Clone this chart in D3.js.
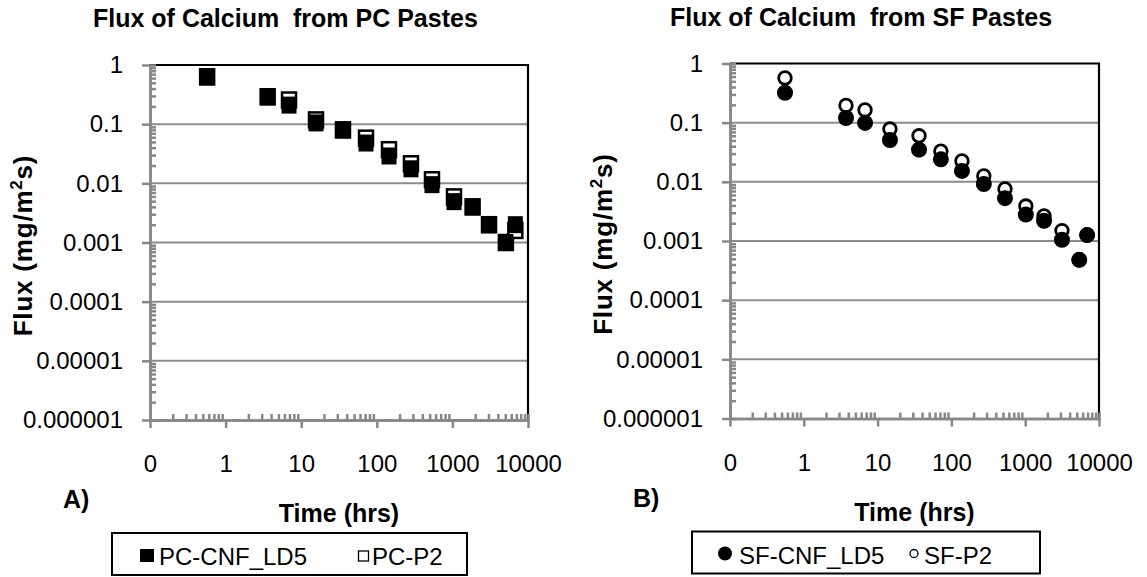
<!DOCTYPE html>
<html>
<head>
<meta charset="utf-8">
<script src="https://cdn.jsdelivr.net/npm/d3@7"></script>
<style>
  body { margin: 0; background: #fff; }
  svg text { font-family: "Liberation Sans", Arial, sans-serif; fill: #000; white-space: pre; }
</style>
</head>
<body>
<div id="plot"></div>
<script>
// time (hrs) and flux (mg/m2s)
const pcTime    = [0.57, 3.6, 6.9, 15.7, 35.7, 72, 145, 283, 537, 1050, 1850, 3050, 5100, 6800];
const pcCnfFlux = [0.63, 0.29, 0.21, 0.105, 0.08, 0.048, 0.029, 0.0176, 0.0095, 0.0049, 0.004, 0.002, 0.001, 0.002];
const pcP2Flux  = [0.63, 0.29, 0.256, 0.118, 0.08, 0.058, 0.037, 0.0214, 0.0115, 0.0059, 0.004, 0.002, 0.001, 0.0016];

const sfTime    = [0.556, 3.73, 6.76, 14.7, 36.4, 72, 139, 275, 532, 1020, 1800, 3150, 5400, 6900];
const sfCnfFlux = [0.32, 0.12, 0.099, 0.051, 0.035, 0.024, 0.0153, 0.0092, 0.0053, 0.0028, 0.0022, 0.00105, 0.00048, 0.00126];
const sfP2Flux  = [0.57, 0.195, 0.164, 0.078, 0.06, 0.033, 0.0225, 0.0126, 0.0076, 0.0039, 0.00265, 0.0015, 0.00048, 0.00126];

const xTicks = [0.1, 1, 10, 100, 1000, 10000];
const xTickLabels = ["0", "1", "10", "100", "1000", "10000"];
const yTicks = [1, 0.1, 0.01, 0.001, 0.0001, 0.00001, 0.000001];
const yTickLabels = ["1", "0.1", "0.01", "0.001", "0.0001", "0.00001", "0.000001"];

const width = 1147, height = 577;
const axisGrey = "#878787";

let svg = d3.select("#plot").append("svg")
  .attr("width", width)
  .attr("height", height);

function minorTicks(lo, hi){
  let out = [];
  for (let d = lo; d < hi; d *= 10) {
    for (let k = 2; k <= 9; k++) out.push(d * k);
  }
  return out;
}

function drawPanel(p){
  let x = d3.scaleLog().domain([0.1, 10000]).range([p.left, p.right]);
  let y = d3.scaleLog().domain([0.000001, 1]).range([p.bottom, p.top]);
  let g = svg.append("g");

  // gridlines
  g.append("g").selectAll("line")
    .data(yTicks.slice(1, -1))
    .join("line")
      .attr("x1", p.left).attr("x2", p.right)
      .attr("y1", d => y(d)).attr("y2", d => y(d))
      .attr("stroke", "#8c8c8c").attr("stroke-width", 2);

  // black frame on top and right
  g.append("path")
    .attr("d", `M${p.left},${y(1)}H${p.right}V${p.bottom}`)
    .attr("fill", "none").attr("stroke", "#000").attr("stroke-width", 2.2);

  // y axis: minor ticks inside, majors outside
  let yMinor = d3.axisLeft(y).tickValues(minorTicks(0.000001, 1))
    .tickSize(-6).tickFormat("");
  let yMajor = d3.axisLeft(y).tickValues(yTicks).tickSizeInner(8).tickSizeOuter(0)
    .tickPadding(19).tickFormat((d, i) => yTickLabels[i]);
  let xMinor = d3.axisBottom(x).tickValues(minorTicks(0.1, 10000))
    .tickSize(-6).tickFormat("");
  let xMajor = d3.axisBottom(x).tickValues(xTicks).tickSizeInner(8).tickSizeOuter(0)
    .tickPadding(27).tickFormat((d, i) => xTickLabels[i]);

  [[yMinor, "y"], [yMajor, "y"], [xMinor, "x"], [xMajor, "x"]].forEach(([ax, k]) => {
    let a = g.append("g")
      .attr("transform", k == "y" ? `translate(${p.left},0)` : `translate(0,${p.bottom})`)
      .call(ax);
    a.selectAll("path, line").attr("stroke", axisGrey).attr("stroke-width", 2.5);
    a.selectAll("text").style("font-size", "24px").attr("fill", "#000");
  });

  // points: open series first, filled drawn over it
  let pts = p.time.map((t, i) => ({t: t, open: p.openFlux[i], fill: p.fillFlux[i]}));
  if (p.shape == "square") {
    g.append("g").selectAll("rect").data(pts).join("rect")
      .attr("x", d => x(d.t) - 7).attr("y", d => y(d.open) - 7.5)
      .attr("width", 14).attr("height", 15)
      .attr("fill", "#fff").attr("stroke", "#000").attr("stroke-width", 2.5);
    g.append("g").selectAll("rect").data(pts).join("rect")
      .attr("x", d => x(d.t) - 7.5).attr("y", d => y(d.fill) - 8.5)
      .attr("width", 15).attr("height", 17)
      .attr("fill", "#000");
  } else {
    g.append("g").selectAll("circle").data(pts).join("circle")
      .attr("cx", d => x(d.t)).attr("cy", d => y(d.open)).attr("r", 6.3)
      .attr("fill", "#fff").attr("stroke", "#000").attr("stroke-width", 2.8);
    g.append("g").selectAll("circle").data(pts).join("circle")
      .attr("cx", d => x(d.t)).attr("cy", d => y(d.fill)).attr("r", 8)
      .attr("fill", "#000");
  }

  // titles and labels
  g.append("text").attr("x", p.titleX).attr("y", p.titleY)
    .style("font-size", "25px").style("font-weight", "bold").text(p.title);

  let yl = g.append("text")
    .attr("transform", `translate(${p.left - 118},${(p.top + p.bottom) / 2 + 3}) rotate(-90)`)
    .attr("text-anchor", "middle")
    .style("font-size", "26px").style("font-weight", "bold").style("letter-spacing", "0.8px");
  yl.append("tspan").text("Flux (mg/m");
  yl.append("tspan").attr("dy", -10).style("font-size", "17px").text("2");
  yl.append("tspan").attr("dy", 10).text("s)");

  g.append("text").attr("x", (p.left + p.right) / 2).attr("y", p.bottom + 102)
    .attr("text-anchor", "middle")
    .style("font-size", "25px").style("font-weight", "bold").text("Time (hrs)");

  g.append("text").attr("x", p.tagX).attr("y", p.bottom + 88)
    .style("font-size", "25px").style("font-weight", "bold").text(p.tag);

  // legend
  let lg = g.append("g");
  lg.append("rect").attr("x", p.legend[0]).attr("y", p.bottom + 113)
    .attr("width", p.legend[1] - p.legend[0]).attr("height", 42)
    .attr("fill", "#fff").attr("stroke", "#000").attr("stroke-width", 2);
  let ly = p.bottom + 136;
  if (p.shape == "square") {
    lg.append("rect").attr("x", p.legend[0] + 28).attr("y", ly - 7).attr("width", 14).attr("height", 13).attr("fill", "#000");
    lg.append("rect").attr("x", p.legend[2] + 0.5).attr("y", ly - 5).attr("width", 10).attr("height", 10)
      .attr("fill", "#fff").attr("stroke", "#000").attr("stroke-width", 1.3);
  } else {
    lg.append("circle").attr("cx", p.legend[0] + 33).attr("cy", ly - 1).attr("r", 7).attr("fill", "#000");
    lg.append("circle").attr("cx", p.legend[2] + 4).attr("cy", ly - 1).attr("r", 4)
      .attr("fill", "#fff").attr("stroke", "#000").attr("stroke-width", 1.3);
  }
  lg.append("text").attr("x", p.legend[0] + 47).attr("y", ly + 9).style("font-size", "24px").text(p.names[0]);
  lg.append("text").attr("x", p.legend[2] + 14).attr("y", ly + 9).style("font-size", "24px").text(p.names[1]);
}

drawPanel({
  left: 150, right: 528, top: 65, bottom: 420,
  time: pcTime, fillFlux: pcCnfFlux, openFlux: pcP2Flux, shape: "square",
  title: "Flux of Calcium  from PC Pastes", titleX: 93, titleY: 27,
  tag: "A)", tagX: 63,
  legend: [112, 467, 358], names: ["PC-CNF_LD5", "PC-P2"]
});

drawPanel({
  left: 730, right: 1099, top: 63.5, bottom: 418.5,
  time: sfTime, fillFlux: sfCnfFlux, openFlux: sfP2Flux, shape: "circle",
  title: "Flux of Calcium  from SF Pastes", titleX: 670, titleY: 26,
  tag: "B)", tagX: 633,
  legend: [692, 1040, 910], names: ["SF-CNF_LD5", "SF-P2"]
});
</script>
</body>
</html>
